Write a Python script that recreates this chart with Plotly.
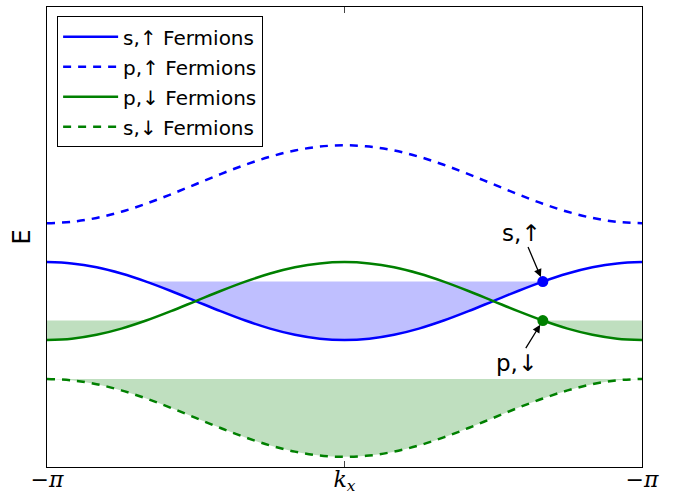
import math
import plotly.graph_objects as go

# ---- data ----
# k_x samples at steps of pi/12 from -pi to pi
kx_steps = list(range(-12, 13))
kx = [k * math.pi / 12 for k in kx_steps]

s_up = [1.0, 0.966, 0.866, 0.707, 0.5, 0.259, 0.0, -0.259, -0.5, -0.707, -0.866, -0.966, -1.0,
        -0.966, -0.866, -0.707, -0.5, -0.259, 0.0, 0.259, 0.5, 0.707, 0.866, 0.966, 1.0]
p_down = [-1.0, -0.966, -0.866, -0.707, -0.5, -0.259, 0.0, 0.259, 0.5, 0.707, 0.866, 0.966, 1.0,
          0.966, 0.866, 0.707, 0.5, 0.259, 0.0, -0.259, -0.5, -0.707, -0.866, -0.966, -1.0]
p_up = [2.0, 2.034, 2.134, 2.293, 2.5, 2.741, 3.0, 3.259, 3.5, 3.707, 3.866, 3.966, 4.0,
        3.966, 3.866, 3.707, 3.5, 3.259, 3.0, 2.741, 2.5, 2.293, 2.134, 2.034, 2.0]
s_down = [-2.0, -2.034, -2.134, -2.293, -2.5, -2.741, -3.0, -3.259, -3.5, -3.707, -3.866, -3.966, -4.0,
          -3.966, -3.866, -3.707, -3.5, -3.259, -3.0, -2.741, -2.5, -2.293, -2.134, -2.034, -2.0]

# Fermi levels / marked points
kf = 2 * math.pi / 3
level_s_up = 0.5
level_p_down = -0.5
level_s_down = -2.0

names = ["s,\u2191 Fermions", "p,\u2191 Fermions", "p,\u2193 Fermions", "s,\u2193 Fermions"]
tick_text = ["\u2212<i>\u03c0</i>", "<i>k<sub>x</sub></i>", "\u2212<i>\u03c0</i>"]

BLUE = "#0000ff"
GREEN = "#008000"
BLUE_FILL = "rgba(0,0,255,0.25)"
GREEN_FILL = "rgba(0,128,0,0.25)"

fig = go.Figure()

def band(xs, ys, lo, hi, level, color):
    seg = [(x, y) for x, y in zip(xs, ys) if lo - 1e-9 <= x <= hi + 1e-9]
    sx = [p[0] for p in seg]
    sy = [p[1] for p in seg]
    fig.add_trace(go.Scatter(x=sx, y=[level] * len(sx), mode="lines", line=dict(width=0, shape="spline"),
                             showlegend=False, hoverinfo="skip"))
    fig.add_trace(go.Scatter(x=sx, y=sy, mode="lines", line=dict(width=0, shape="spline"),
                             fill="tonexty", fillcolor=color, showlegend=False, hoverinfo="skip"))

band(kx, s_up, -kf, kf, level_s_up, BLUE_FILL)
band(kx, p_down, -math.pi, -kf, level_p_down, GREEN_FILL)
band(kx, p_down, kf, math.pi, level_p_down, GREEN_FILL)
band(kx, s_down, -math.pi, math.pi, level_s_down, GREEN_FILL)

series = [(s_up, BLUE, "solid"), (p_up, BLUE, "8px,7px"), (p_down, GREEN, "solid"), (s_down, GREEN, "8px,7px")]
for i, ((ys, col, dash), nm) in enumerate(zip(series, names)):
    fig.add_trace(go.Scatter(x=kx, y=ys, mode="lines", name=nm, legendgroup=str(i),
                             line=dict(color=col, width=2.5, dash=dash, shape="spline")))

fig.add_trace(go.Scatter(x=[kf], y=[level_s_up], mode="markers", marker=dict(color=BLUE, size=11),
                         showlegend=False))
fig.add_trace(go.Scatter(x=[kf], y=[level_p_down], mode="markers", marker=dict(color=GREEN, size=11),
                         showlegend=False))

# labels for the marked points
fig.add_annotation(x=kf, y=level_s_up, xref="x", yref="y", text="s,\u2191", showarrow=True,
                   ax=-21, ay=-49, arrowhead=2, arrowsize=1.2, arrowwidth=1.3, arrowcolor="black",
                   standoff=5, font=dict(family="DejaVu Sans", size=23, color="black"))
fig.add_annotation(x=kf, y=level_p_down, xref="x", yref="y", text="p,\u2193", showarrow=True,
                   ax=-26, ay=42, arrowhead=2, arrowsize=1.2, arrowwidth=1.3, arrowcolor="black",
                   standoff=5, font=dict(family="DejaVu Sans", size=23, color="black"))

fig.update_layout(
    width=687, height=501,
    margin=dict(l=47, r=45, t=7, b=34),
    plot_bgcolor="white", paper_bgcolor="white",
    font=dict(family="DejaVu Sans", color="black"),
    showlegend=True,
    legend=dict(x=0.017, y=0.980, xanchor="left", yanchor="top",
                bordercolor="black", borderwidth=1, bgcolor="white",
                font=dict(family="DejaVu Sans", size=20), tracegroupgap=1,
                itemwidth=55),
)
fig.update_xaxes(range=[-math.pi, math.pi], tickvals=[-math.pi, 0, math.pi], ticktext=tick_text,
                 ticks="inside", ticklen=6, tickcolor="#444", showgrid=False, zeroline=False,
                 showline=True, linecolor="black", linewidth=1.3, mirror="ticks", automargin=False,
                 ticklabelstandoff=-8,
                 tickfont=dict(family="DejaVu Serif", size=22))
fig.update_yaxes(range=[-4.26, 7.55], showticklabels=False, ticks="", showgrid=False, zeroline=False,
                 showline=True, linecolor="black", linewidth=1.3, mirror=True, automargin=False,
                 title=dict(text="E", font=dict(family="DejaVu Sans", size=24), standoff=8))

fig.write_html("out.html")
